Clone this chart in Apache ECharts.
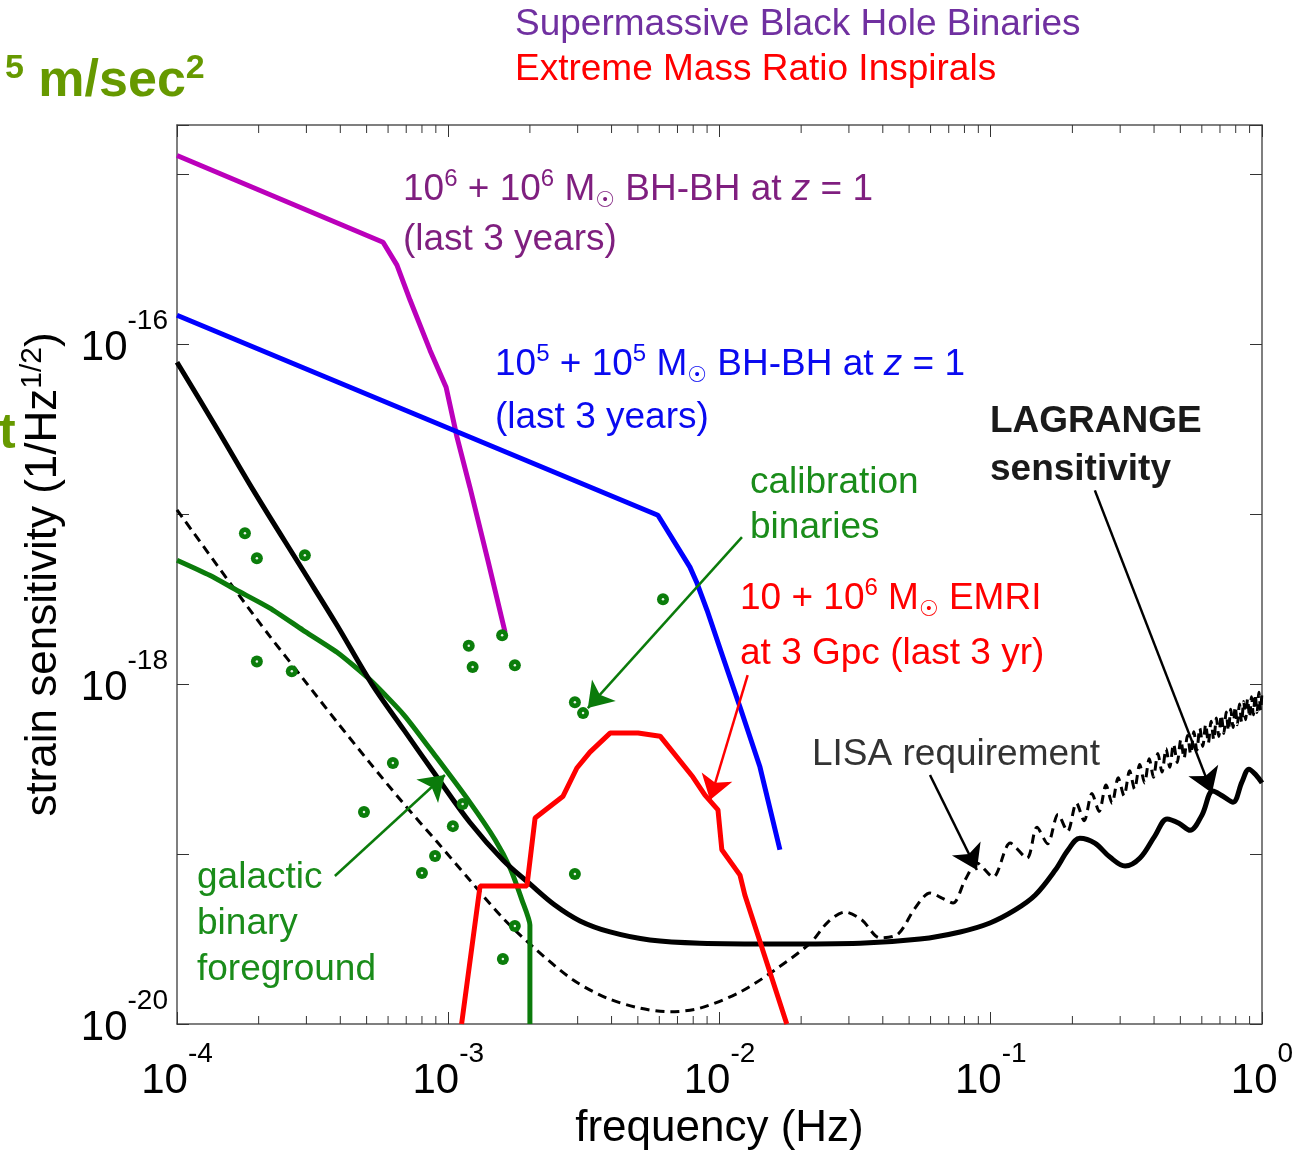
<!DOCTYPE html>
<html>
<head>
    <meta charset="UTF-8">
    <title>LAGRANGE strain sensitivity</title>
    <script src="https://cdn.jsdelivr.net/npm/echarts@6/dist/echarts.min.js"></script>
    <style>
        html, body { margin: 0; padding: 0; background: #fff; }
        #main { width: 1298px; height: 1155px; }
    </style>
</head>
<body>
<div id="main"></div>
<script>
    // values: frequency (Hz) / strain (1/Hz^1/2)

    // 10^6 + 10^6 Msun BH-BH at z = 1
    var smbh6Freq   = [1.0e-4, 5.75e-4, 6.47e-4, 7.23e-4, 8.57e-4, 9.82e-4, 1.077e-3, 1.202e-3, 1.40e-3, 1.62e-3];
    var smbh6Strain = [1.29e-15, 3.98e-16, 2.92e-16, 1.82e-16, 9.2e-17, 5.58e-17, 2.84e-17, 1.44e-17, 5.35e-18, 2.02e-18];

    // 10^5 + 10^5 Msun BH-BH at z = 1
    var smbh5Freq   = [1.0e-4, 5.93e-3, 7.78e-3, 8.26e-3, 9.0e-3, 1.03e-2, 1.19e-2, 1.41e-2, 1.67e-2];
    var smbh5Strain = [1.48e-16, 9.86e-18, 4.88e-18, 3.93e-18, 2.72e-18, 1.44e-18, 7.33e-19, 3.25e-19, 1.06e-19];

    // LAGRANGE sensitivity
    var lagFreq = [1.0e-4, 1.38e-4, 1.94e-4, 2.91e-4, 3.89e-4, 5.23e-4, 6.87e-4, 9.09e-4, 1.20e-3, 1.59e-3,
        2.0e-3, 2.47e-3, 3.06e-3, 3.95e-3, 5.54e-3, 8.47e-3, 1.67e-2, 3.30e-2, 5.48e-2, 7.71e-2,
        9.93e-2, 0.123, 0.146, 0.173, 0.193, 0.213, 0.242, 0.275, 0.313, 0.355,
        0.403, 0.447, 0.494, 0.543, 0.601, 0.659, 0.718, 0.782, 0.843, 0.895, 0.950, 1.0];
    var lagStrain = [7.83e-17, 3.34e-17, 1.33e-17, 4.69e-18, 2.22e-18, 1.0e-18, 5.36e-19, 2.84e-19, 1.54e-19, 9.22e-20,
        6.67e-20, 5.01e-20, 4.04e-20, 3.48e-20, 3.12e-20, 2.99e-20, 2.96e-20, 2.99e-20, 3.16e-20, 3.48e-20,
        3.93e-20, 4.69e-20, 5.74e-20, 8.05e-20, 1.06e-19, 1.24e-19, 1.16e-19, 9.6e-20, 8.5e-20, 9.47e-20,
        1.28e-19, 1.61e-19, 1.52e-19, 1.38e-19, 1.70e-19, 2.35e-19, 2.19e-19, 2.02e-19, 2.65e-19, 3.16e-19, 2.92e-19, 2.62e-19];

    // LISA requirement (dashed)
    var lisaFreq = [1.0e-4, 1.66e-4, 2.20e-4, 2.91e-4, 3.89e-4, 5.15e-4, 6.81e-4, 9.09e-4, 1.20e-3, 1.59e-3,
        2.12e-3, 2.88e-3, 3.85e-3, 5.09e-3, 6.57e-3, 8.47e-3, 1.19e-2, 1.60e-2, 2.16e-2, 2.51e-2,
        2.90e-2, 3.35e-2, 3.91e-2, 4.55e-2, 5.26e-2, 5.97e-2, 6.61e-2, 7.26e-2, 8.04e-2, 8.89e-2,
        0.102, 0.118, 0.136,
        0.148, 0.162, 0.177, 0.192, 0.207, 0.221, 0.236, 0.251, 0.266, 0.280,
        0.295, 0.310, 0.325, 0.339, 0.354, 0.369, 0.384, 0.398, 0.413, 0.428,
        0.443, 0.457, 0.472, 0.487, 0.502, 0.516, 0.531, 0.546, 0.561, 0.575,
        0.590, 0.605, 0.620, 0.634, 0.649, 0.664, 0.679, 0.693, 0.708, 0.723,
        0.738, 0.752, 0.767, 0.782, 0.797, 0.811, 0.826, 0.841, 0.856, 0.870,
        0.885, 0.900, 0.915, 0.929, 0.944, 0.959, 0.974, 0.988, 1.0];
    var lisaStrain = [1.06e-17, 3.48e-18, 1.91e-18, 1.08e-18, 5.98e-19, 3.43e-19, 2.0e-19, 1.18e-19, 7.03e-20, 4.2e-20,
        2.72e-20, 1.82e-20, 1.42e-20, 1.24e-20, 1.18e-20, 1.24e-20, 1.54e-20, 2.08e-20, 2.99e-20, 3.98e-20,
        4.56e-20, 4.09e-20, 3.21e-20, 3.38e-20, 4.81e-20, 5.9e-20, 5.51e-20, 5.15e-20, 7.03e-20, 8.85e-20,
        7.32e-20, 1.16e-19, 9.47e-20,
        1.44e-19, 1.15e-19, 1.71e-19, 1.36e-19, 2.0e-19, 1.57e-19, 2.27e-19, 1.78e-19, 2.55e-19, 1.99e-19,
        2.81e-19, 2.20e-19, 3.09e-19, 2.41e-19, 3.36e-19, 2.62e-19, 3.64e-19, 2.83e-19, 3.90e-19, 3.04e-19,
        4.18e-19, 3.24e-19, 4.44e-19, 3.46e-19, 4.71e-19, 3.66e-19, 4.98e-19, 3.88e-19, 5.25e-19, 4.08e-19,
        5.51e-19, 4.30e-19, 5.79e-19, 4.50e-19, 6.05e-19, 4.71e-19, 6.32e-19, 4.92e-19, 6.58e-19, 5.13e-19,
        6.85e-19, 5.34e-19, 7.11e-19, 5.55e-19, 7.38e-19, 5.76e-19, 7.64e-19, 5.97e-19, 7.91e-19, 6.18e-19,
        8.17e-19, 6.39e-19, 8.44e-19, 6.60e-19, 8.70e-19, 6.81e-19, 8.97e-19, 7.01e-19, 9.2e-19];

    // galactic binary foreground
    var galFreq   = [1.0e-4, 1.32e-4, 1.66e-4, 2.20e-4, 2.91e-4, 3.89e-4, 5.15e-4, 6.87e-4, 9.09e-4, 1.20e-3, 1.49e-3, 1.69e-3, 1.87e-3, 2.0e-3, 2.0e-3];
    var galStrain = [5.36e-18, 4.37e-18, 3.57e-18, 2.80e-18, 2.08e-18, 1.54e-18, 1.06e-18, 6.58e-19, 3.67e-19, 2.02e-19, 1.21e-19, 8.28e-20, 5.36e-20, 3.82e-20, 1.0e-20];

    // 10 + 10^6 Msun EMRI at 3 Gpc
    var emriFreq   = [1.12e-3, 1.31e-3, 1.95e-3, 2.09e-3, 2.65e-3, 2.98e-3, 3.33e-3, 3.95e-3, 5.01e-3, 6.04e-3, 7.98e-3, 8.84e-3, 9.87e-3, 1.02e-2, 1.19e-2, 1.24e-2, 1.77e-2];
    var emriStrain = [1.0e-20, 6.49e-20, 6.49e-20, 1.63e-19, 2.19e-19, 3.21e-19, 3.98e-19, 5.15e-19, 5.15e-19, 4.94e-19, 2.84e-19, 2.22e-19, 1.82e-19, 1.06e-19, 7.52e-20, 5.74e-20, 1.0e-20];

    // calibration binaries (dots)
    var calFreq   = [1.78e-4, 1.97e-4, 2.96e-4, 1.97e-4, 2.65e-4, 1.19e-3, 1.23e-3, 1.58e-3, 1.76e-3, 6.25e-4, 4.89e-4,
        1.04e-3, 1.13e-3, 8.94e-4, 8.0e-4, 1.76e-3, 1.59e-3, 6.19e-3, 2.93e-3, 3.14e-3, 2.93e-3];
    var calStrain = [7.73e-18, 5.51e-18, 5.74e-18, 1.36e-18, 1.19e-18, 1.68e-18, 1.26e-18, 1.94e-18, 1.29e-18, 3.43e-19, 1.77e-19,
        1.46e-19, 1.97e-19, 9.73e-20, 7.73e-20, 3.77e-20, 2.41e-20, 3.16e-18, 7.83e-19, 6.75e-19, 7.62e-20];

    // annotation arrows (from -> to, in data units)
    var arrowFrom   = [[3.82e-4, 7.43e-20], [1.21e-2, 7.33e-18], [1.27e-2, 1.13e-18], [5.97e-2, 2.92e-19], [0.242, 1.38e-17]];
    var arrowTo     = [[9.72e-4, 2.92e-19], [3.27e-3, 7.23e-19], [9.23e-3, 2.08e-19], [8.89e-2, 8.05e-20], [0.654, 2.29e-19]];
    var arrowColors = ['#0b7b0b', '#0b7b0b', '#ff0000', '#000000', '#000000'];

    // axes
    var xMin = 1e-4, xMax = 1;
    var yMin = 1e-20, yMax = Math.pow(10, -14.71);
    var minorDecades = [1e-4, 1e-3, 1e-2, 1e-1];
    var minorSteps = [2, 3, 4, 5, 6, 7, 8, 9];

    var FONT = '"Liberation Sans", Arial, Helvetica, sans-serif';

    function zip(a, b) {
        return a.map(function (v, i) { return [v, b[i]]; });
    }

    var minorTicks = [];
    minorDecades.forEach(function (d) {
        minorSteps.forEach(function (m) { minorTicks.push([d * m, yMin]); });
    });

    // 10^n tick labels
    function powLabel(v, every) {
        var e = Math.log10(v);
        var r = Math.round(e);
        if (Math.abs(e - r) > 1e-6 || r % every !== 0) return '';
        return '{b|10}{s|' + r + '}';
    }
    var powRich = {
        b: { fontSize: 42, lineHeight: 70, verticalAlign: 'bottom', fontFamily: FONT, color: '#000' },
        s: { fontSize: 28, lineHeight: 38, padding: [8, 0, 0, 0], verticalAlign: 'top', fontFamily: FONT, color: '#000' }
    };

    // rich styles for the in-plot annotations
    function richFor(size, weight) {
        return {
            sup: { fontSize: Math.round(size * 0.66), lineHeight: Math.round(size * 0.66), verticalAlign: 'top', fontFamily: FONT, fontWeight: weight },
            sun: { fontSize: Math.round(size * 0.6), lineHeight: Math.round(size * 0.42), verticalAlign: 'bottom', fontFamily: '"DejaVu Sans", sans-serif' },
            it: { fontSize: size, lineHeight: size + 8, fontStyle: 'italic', fontFamily: FONT }
        };
    }
    function note(x, y, text, color, size, weight) {
        size = size || 37;
        weight = weight || 'normal';
        return {
            type: 'text', x: x, y: y, z: 100,
            style: {
                text: text, fill: color, fontSize: size, fontFamily: FONT, fontWeight: weight,
                lineHeight: size + 8, align: 'left', verticalAlign: 'middle',
                rich: richFor(size, weight)
            }
        };
    }

    var myChart = echarts.init(document.getElementById('main'), null, { renderer: 'canvas' });

    var boxLine = { show: true, onZero: false, lineStyle: { color: '#555', width: 1.5 } };
    var tickIn = { show: true, inside: true, length: 12, lineStyle: { color: '#333', width: 1 } };

    var option = {
        backgroundColor: '#fff',
        animation: false,
        grid: { left: 177, top: 125, width: 1085, height: 899, containLabel: false, outerBoundsMode: 'none' },
        xAxis: [
            {
                type: 'log', logBase: 10, min: xMin, max: xMax, position: 'bottom',
                axisLine: boxLine, axisTick: tickIn, splitLine: { show: false },
                axisLabel: {
                    margin: 8,
                    formatter: function (v) { return powLabel(v, 1); },
                    rich: powRich
                },
                name: 'frequency (Hz)', nameLocation: 'middle', nameGap: 74,
                nameTextStyle: { fontSize: 44, fontFamily: FONT, color: '#000', lineHeight: 44 }
            },
            {
                type: 'log', logBase: 10, min: xMin, max: xMax, position: 'top',
                axisLine: boxLine, axisTick: tickIn, axisLabel: { show: false }, splitLine: { show: false }
            }
        ],
        yAxis: [
            {
                type: 'log', logBase: 10, min: yMin, max: yMax, position: 'left',
                axisLine: boxLine, axisTick: tickIn, splitLine: { show: false },
                axisLabel: {
                    margin: 9,
                    padding: [0, 0, 20, 0],
                    formatter: function (v) { return powLabel(v, 2); },
                    rich: powRich
                },
                name: 'strain sensitivity (1/Hz{s|1/2})', nameLocation: 'middle', nameGap: 79, nameRotate: 90,
                nameTextStyle: {
                    fontSize: 44, fontFamily: FONT, color: '#000', lineHeight: 52,
                    rich: { s: { fontSize: 30, lineHeight: 26, verticalAlign: 'top', fontFamily: FONT, color: '#000' } }
                }
            },
            {
                type: 'log', logBase: 10, min: yMin, max: yMax, position: 'right',
                axisLine: boxLine, axisTick: tickIn, axisLabel: { show: false }, splitLine: { show: false }
            }
        ],
        series: [
            {
                name: 'minor ticks', type: 'custom', silent: true, clip: false, z: 1,
                data: minorTicks,
                renderItem: function (params, api) {
                    var f = api.value(0);
                    var b = api.coord([f, yMin]);
                    var t = api.coord([f, yMax]);
                    var st = { stroke: '#333', lineWidth: 1 };
                    return {
                        type: 'group',
                        children: [
                            { type: 'line', shape: { x1: b[0], y1: b[1], x2: b[0], y2: b[1] - 8 }, style: st },
                            { type: 'line', shape: { x1: t[0], y1: t[1], x2: t[0], y2: t[1] + 8 }, style: st }
                        ]
                    };
                }
            },
            {
                name: 'LISA requirement', type: 'line', data: zip(lisaFreq, lisaStrain),
                showSymbol: false, smooth: 0.3, z: 2,
                lineStyle: { color: '#000', width: 3, type: [9, 6] }
            },
            {
                name: 'galactic binary foreground', type: 'line', data: zip(galFreq, galStrain),
                showSymbol: false, smooth: 0.2, z: 3,
                lineStyle: { color: '#0b7b0b', width: 5 }
            },
            {
                name: 'LAGRANGE sensitivity', type: 'line', data: zip(lagFreq, lagStrain),
                showSymbol: false, smooth: 0.35, z: 4,
                lineStyle: { color: '#000', width: 5 }
            },
            {
                name: '10^6 BH-BH', type: 'line', data: zip(smbh6Freq, smbh6Strain),
                showSymbol: false, z: 5,
                lineStyle: { color: '#bb00bb', width: 5 }
            },
            {
                name: '10^5 BH-BH', type: 'line', data: zip(smbh5Freq, smbh5Strain),
                showSymbol: false, z: 5,
                lineStyle: { color: '#0000ff', width: 5 }
            },
            {
                name: 'EMRI', type: 'line', data: zip(emriFreq, emriStrain),
                showSymbol: false, z: 6,
                lineStyle: { color: '#ff0000', width: 5 }
            },
            {
                name: 'calibration binaries', type: 'scatter', data: zip(calFreq, calStrain),
                symbol: 'circle', symbolSize: 12, z: 7,
                itemStyle: { color: '#0b7d0b', opacity: 1 }
            },
            {
                name: 'calibration binaries centre', type: 'scatter', data: zip(calFreq, calStrain),
                symbol: 'circle', symbolSize: 2.5, z: 7, silent: true,
                itemStyle: { color: '#ffffff', opacity: 0.9 }
            },
            {
                name: 'arrows', type: 'lines', coordinateSystem: 'cartesian2d', z: 8,
                symbol: ['none', 'arrow'], symbolSize: 24,
                data: arrowFrom.map(function (p, i) {
                    return { coords: [p, arrowTo[i]], lineStyle: { color: arrowColors[i] } };
                }),
                lineStyle: { width: 2.5, opacity: 1, curveness: 0 }
            }
        ],
        graphic: [
            note(515, 25, 'Supermassive Black Hole Binaries', '#7030a0', 37),
            note(515, 70, 'Extreme Mass Ratio Inspirals', '#ff0000', 37),
            note(5, 82, '{sup|5} m/sec{sup|2}', '#669900', 52, 'bold'),
            note(-1, 434, 't', '#669900', 50, 'bold'),

            note(403, 190, '10{sup|6} + 10{sup|6} M{sun|\u2609} BH-BH at {it|z} = 1', '#7f1f7f'),
            note(403, 240, '(last 3 years)', '#7f1f7f'),
            note(495, 365, '10{sup|5} + 10{sup|5} M{sun|\u2609} BH-BH at {it|z} = 1', '#0a0af0'),
            note(495, 418, '(last 3 years)', '#0a0af0'),

            note(990, 422, 'LAGRANGE', '#1a1a1a', 37, 'bold'),
            note(990, 470, 'sensitivity', '#1a1a1a', 37, 'bold'),

            note(750, 483, 'calibration', '#1a8c1a'),
            note(750, 528, 'binaries', '#1a8c1a'),

            note(740, 599, '10 + 10{sup|6} M{sun|\u2609} EMRI', '#ff0000'),
            note(740, 654, 'at 3 Gpc (last 3 yr)', '#ff0000'),

            note(812, 755, 'LISA requirement', '#333333'),

            note(197, 878, 'galactic', '#1a8c1a'),
            note(197, 924, 'binary', '#1a8c1a'),
            note(197, 970, 'foreground', '#1a8c1a')
        ]
    };

    myChart.setOption(option);
</script>
</body>
</html>
